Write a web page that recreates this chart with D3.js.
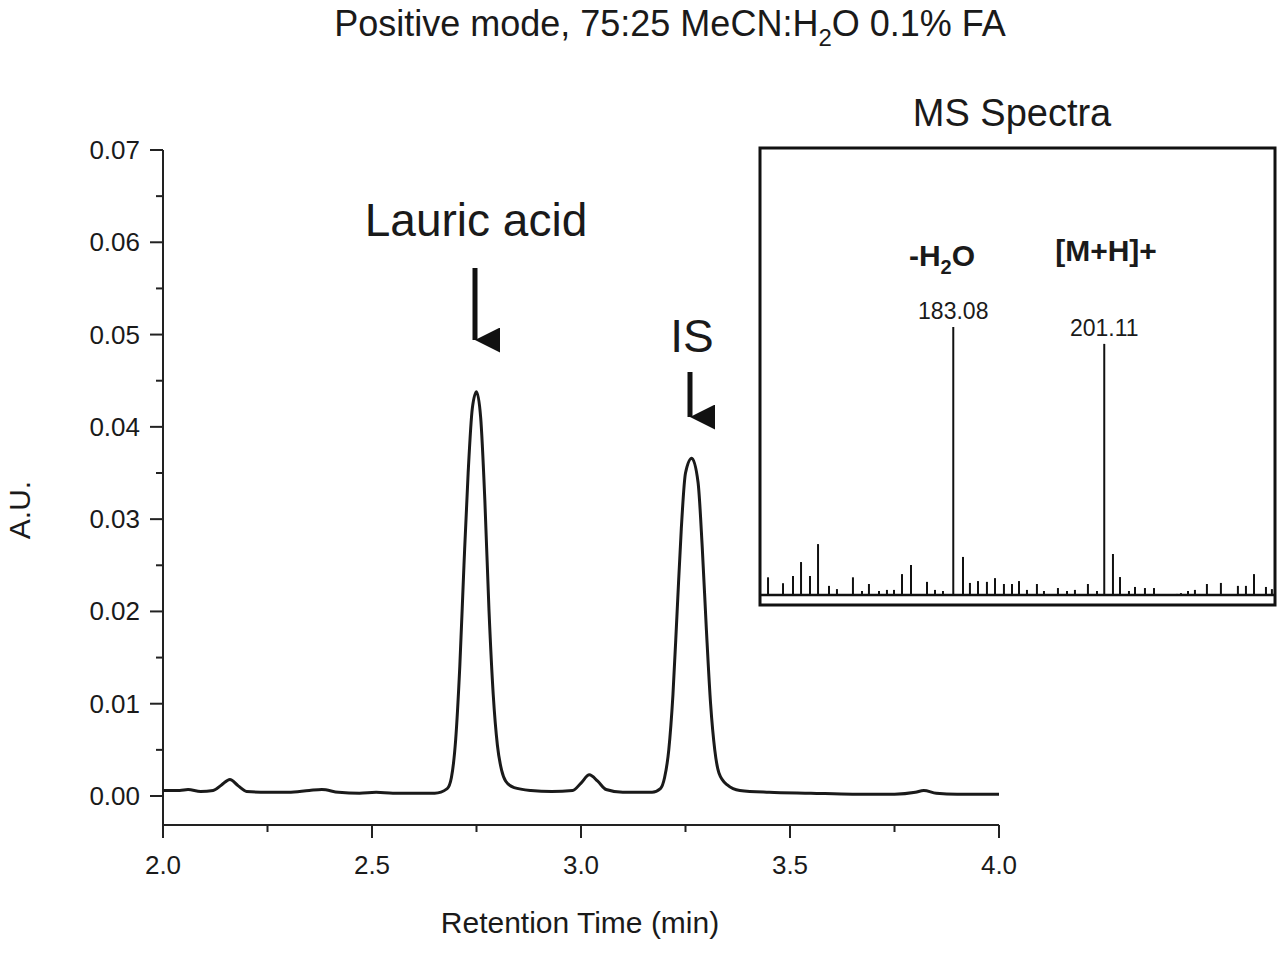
<!DOCTYPE html><html><head><meta charset="utf-8">
<script src="https://cdn.jsdelivr.net/npm/d3@7"></script>
<style>body{margin:0;background:#fff}text{font-family:Arial,"Liberation Sans",sans-serif;fill:#1a1a1a}</style></head><body>
<svg id="c" width="1280" height="954"></svg>
<script>
const times=[2.00,2.04,2.06,2.09,2.12,2.14,2.16,2.18,2.20,2.25,2.30,2.35,2.38,2.42,2.47,2.51,2.55,2.60,2.65,2.68,2.69,2.70,2.71,2.72,2.73,2.74,2.75,2.76,2.77,2.78,2.79,2.80,2.81,2.82,2.84,2.88,2.93,2.98,3.00,3.02,3.04,3.06,3.10,3.17,3.19,3.20,3.21,3.22,3.23,3.24,3.25,3.265,3.28,3.29,3.30,3.31,3.32,3.33,3.35,3.38,3.45,3.55,3.65,3.75,3.80,3.82,3.85,3.90,4.00];
const absorb=[0.0006,0.0006,0.0007,0.0005,0.0006,0.0012,0.0018,0.0011,0.0005,0.0004,0.0004,0.0006,0.0007,0.0004,0.0003,0.0004,0.0003,0.0003,0.0003,0.0008,0.0020,0.0060,0.0140,0.0250,0.0350,0.0420,0.0438,0.0410,0.0320,0.0200,0.0110,0.0055,0.0028,0.0016,0.0009,0.0006,0.0005,0.0006,0.0014,0.0023,0.0016,0.0007,0.0004,0.0004,0.0008,0.0020,0.0050,0.0110,0.0200,0.0290,0.0350,0.0366,0.0340,0.0270,0.0180,0.0100,0.0050,0.0025,0.0012,0.0006,0.0004,0.0003,0.0002,0.0002,0.0004,0.0006,0.0003,0.0002,0.0002];
const xTicks=[2.0,2.5,3.0,3.5,4.0];
const yTicks=[0,0.01,0.02,0.03,0.04,0.05,0.06,0.07];
const mz=[160.96,162.75,163.94,164.90,165.97,166.93,168.24,169.19,171.10,172.18,173.01,174.21,175.16,176.00,176.96,178.03,179.94,180.90,181.85,183.08,184.24,185.07,186.03,187.10,188.06,189.13,190.09,190.93,191.88,193.07,193.91,195.58,196.66,197.61,199.16,200.24,201.11,202.15,202.99,204.06,204.78,205.97,207.05,209.79,210.27,211.11,211.94,213.37,215.04,217.07,218.03,218.99,220.42,221.13];
const intensity=[6.6,4.4,7.1,12.3,7.1,19.0,3.4,2.2,6.6,1.5,4.1,1.5,1.9,1.9,7.8,11.2,4.9,1.9,1.5,100,14.2,4.5,5.2,4.9,6.3,4.1,4.1,5.2,1.9,4.1,1.5,2.6,1.5,1.9,4.1,1.5,93.7,15.3,6.7,1.5,3.0,2.6,2.6,0.4,0.7,1.5,1.9,4.1,4.5,3.4,3.4,7.8,3.0,2.2];

const svg=d3.select("#c");
svg.append("defs").append("marker").attr("id","ah").attr("viewBox","0 0 10 10").attr("refX",5).attr("refY",10)
 .attr("markerWidth",5).attr("markerHeight",5).attr("markerUnits","strokeWidth").attr("orient","auto-start-reverse")
 .append("path").attr("d","M0,0 L10,0 L5,10 Z").attr("fill","#111");
const x=d3.scaleLinear().domain([2,4]).range([163,999]);
const y=d3.scaleLinear().domain([0,0.07]).range([796,150]);
const axBottom=825;
svg.append("line").attr("x1",163).attr("x2",163).attr("y1",150).attr("y2",axBottom).attr("stroke","#222").attr("stroke-width",2);
svg.append("line").attr("x1",163).attr("x2",999).attr("y1",axBottom).attr("y2",axBottom).attr("stroke","#222").attr("stroke-width",2);
const ga=svg.append("g");
d3.range(0,15).forEach(i=>{const v=i*0.005;const yy=y(v);const major=i%2===0;
 ga.append("line").attr("x1",163).attr("x2",major?150:156).attr("y1",yy).attr("y2",yy).attr("stroke","#222").attr("stroke-width",2);});
yTicks.forEach(v=>ga.append("text").attr("x",140).attr("y",y(v)+9).attr("text-anchor","end").attr("font-size",26).text(v.toFixed(2)));
d3.range(0,9).forEach(i=>{const v=2+i*0.25;const xx=x(v);const major=i%2===0;
 ga.append("line").attr("x1",xx).attr("x2",xx).attr("y1",axBottom).attr("y2",major?axBottom+13:axBottom+7).attr("stroke","#222").attr("stroke-width",2);});
xTicks.forEach(v=>ga.append("text").attr("x",x(v)).attr("y",874).attr("text-anchor","middle").attr("font-size",26).text(v.toFixed(1)));
svg.append("text").attr("x",580).attr("y",933).attr("text-anchor","middle").attr("font-size",30).text("Retention Time (min)");
svg.append("text").attr("transform","translate(30,510) rotate(-90)").attr("text-anchor","middle").attr("font-size",30).text("A.U.");
const line=d3.line().x((d,i)=>x(times[i])).y(d=>y(d)).curve(d3.curveMonotoneX);
svg.append("path").attr("d",line(absorb)).attr("fill","none").attr("stroke","#1a1a1a").attr("stroke-width",3);

// title
const t=svg.append("text").attr("x",670).attr("y",36).attr("text-anchor","middle").attr("font-size",36);
t.append("tspan").text("Positive mode, 75:25 MeCN:H");
t.append("tspan").attr("font-size",24).attr("dy",10).text("2");
t.append("tspan").attr("dy",-10).text("O 0.1% FA");

// annotations
svg.append("text").attr("x",476).attr("y",236).attr("text-anchor","middle").attr("font-size",46).text("Lauric acid");
svg.append("line").attr("x1",475).attr("x2",475).attr("y1",268).attr("y2",340).attr("stroke","#111").attr("stroke-width",5).attr("marker-end","url(#ah)");
svg.append("text").attr("x",692).attr("y",352).attr("text-anchor","middle").attr("font-size",46).text("IS");
svg.append("line").attr("x1",690).attr("x2",690).attr("y1",372).attr("y2",417).attr("stroke","#111").attr("stroke-width",5).attr("marker-end","url(#ah)");

// inset
const ix=d3.scaleLinear().domain([160,221.5]).range([760,1275]);
const iy=d3.scaleLinear().domain([0,100]).range([595,327]);
svg.append("rect").attr("x",760).attr("y",148).attr("width",515).attr("height",457).attr("fill","#fff").attr("stroke","#111").attr("stroke-width",3);
svg.append("line").attr("x1",760).attr("x2",1275).attr("y1",iy(0)).attr("y2",iy(0)).attr("stroke","#111").attr("stroke-width",2.5);
svg.append("g").selectAll("line").data(mz).join("line").attr("x1",d=>ix(d)).attr("x2",d=>ix(d))
 .attr("y1",iy(0)).attr("y2",(d,i)=>iy(intensity[i])).attr("stroke","#111").attr("stroke-width",2);
svg.append("text").attr("x",1012).attr("y",126).attr("text-anchor","middle").attr("font-size",38).text("MS Spectra");
const h=svg.append("text").attr("x",942).attr("y",266).attr("text-anchor","middle").attr("font-size",30).attr("font-weight","bold");
h.append("tspan").text("-H");h.append("tspan").attr("font-size",20).attr("dy",8).text("2");h.append("tspan").attr("dy",-8).text("O");
svg.append("text").attr("x",1106).attr("y",261).attr("text-anchor","middle").attr("font-size",30).attr("font-weight","bold").text("[M+H]+");
svg.append("text").attr("x",ix(183.08)).attr("y",319).attr("text-anchor","middle").attr("font-size",23).text("183.08");
svg.append("text").attr("x",ix(201.11)).attr("y",336).attr("text-anchor","middle").attr("font-size",23).text("201.11");
</script></body></html>
